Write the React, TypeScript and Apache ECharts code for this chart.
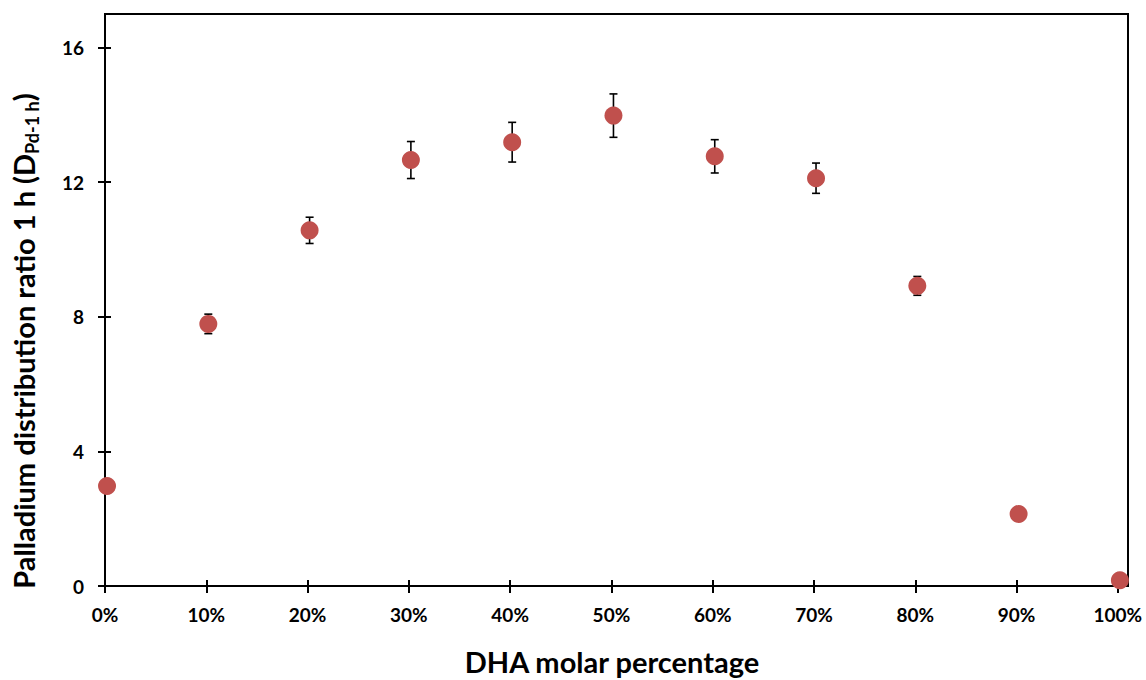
import React, { useEffect, useRef } from "react";
import * as echarts from "echarts";

// DHA molar percentage (%) of each sample
const dhaPercent = [0.2, 10.2, 20.2, 30.2, 40.2, 50.2, 60.2, 70.2, 80.2, 90.2, 100.2];
// Palladium distribution ratio after 1 h
const distributionRatio = [2.97, 7.79, 10.57, 12.66, 13.19, 13.98, 12.77, 12.12, 8.92, 2.14, 0.17];
// Standard deviation (0 = no visible error bar)
const ratioError = [0, 0.29, 0.39, 0.55, 0.59, 0.645, 0.495, 0.45, 0.28, 0, 0];

const xTickValues = [0, 10, 20, 30, 40, 50, 60, 70, 80, 90, 100];
const yTickValues = [0, 4, 8, 12, 16];

const FONT = "Lato, 'Open Sans', sans-serif";
const MARKER = "#C0504D";

export default function App() {
  const ref = useRef<HTMLDivElement>(null);

  useEffect(() => {
    if (!ref.current) return;
    const chart = echarts.init(ref.current, undefined, { renderer: "svg" });

    const points = dhaPercent.map((x, i) => [x, distributionRatio[i]]);
    const errors = dhaPercent
      .map((x, i) => [x, distributionRatio[i] - ratioError[i], distributionRatio[i] + ratioError[i], ratioError[i]])
      .filter((d) => d[3] > 0);

    const axisColor = "#000";
    const tickStyle = { color: axisColor, width: 2 };

    const xBase = {
      type: "value" as const,
      min: 0,
      max: 101,
      interval: 10,
      position: "bottom" as const,
      gridIndex: 0,
      splitLine: { show: false },
    };
    const yBase = {
      type: "value" as const,
      min: 0,
      max: 17,
      interval: 4,
      position: "left" as const,
      gridIndex: 0,
      splitLine: { show: false },
    };

    chart.setOption({
      animation: false,
      backgroundColor: "#fff",
      grid: {
        left: 105,
        top: 14,
        right: 18,
        bottom: 94,
        show: true,
        borderColor: axisColor,
        borderWidth: 2,
        backgroundColor: "transparent",
      },
      xAxis: [
        {
          ...xBase,
          axisLine: { show: true, lineStyle: { color: axisColor, width: 2 } },
          axisTick: { show: true, inside: false, length: 7, customValues: xTickValues, lineStyle: tickStyle },
          axisLabel: {
            customValues: xTickValues,
            formatter: (v: number) => `${v}%`,
            margin: 19,
            color: "#000",
            fontFamily: FONT,
            fontWeight: "bold",
            fontSize: 19,
          },
        },
        {
          ...xBase,
          axisLine: { show: false },
          axisTick: { show: true, inside: true, length: 6, customValues: xTickValues, lineStyle: tickStyle },
          axisLabel: { show: false },
        },
      ],
      yAxis: [
        {
          ...yBase,
          axisLine: { show: true, lineStyle: { color: axisColor, width: 2 } },
          axisTick: { show: true, inside: false, length: 7, customValues: yTickValues, lineStyle: tickStyle },
          axisLabel: {
            customValues: yTickValues,
            margin: 21,
            color: "#000",
            fontFamily: FONT,
            fontWeight: "bold",
            fontSize: 19,
          },
        },
        {
          ...yBase,
          axisLine: { show: false },
          axisTick: { show: true, inside: true, length: 6, customValues: yTickValues, lineStyle: tickStyle },
          axisLabel: { show: false },
        },
      ],
      graphic: [
        {
          type: "text",
          x: 612,
          y: 661,
          style: {
            text: "DHA molar percentage",
            fill: "#000",
            font: `bold 29px ${FONT}`,
            align: "center",
            verticalAlign: "middle",
          },
        },
        {
          type: "text",
          x: 23,
          y: 341,
          rotation: Math.PI / 2,
          style: {
            text: "Palladium distribution ratio 1 h (D{sub|Pd-1 h})",
            fill: "#000",
            fontFamily: FONT,
            fontWeight: "bold",
            fontSize: 29,
            lineHeight: 36,
            align: "center",
            verticalAlign: "middle",
            rich: {
              sub: {
                fontFamily: FONT,
                fontWeight: "bold",
                fontSize: 18,
                lineHeight: 36,
                verticalAlign: "bottom",
                fill: "#000",
              },
            },
          },
        },
      ],
      series: [
        {
          type: "custom",
          xAxisIndex: 0,
          yAxisIndex: 0,
          z: 2,
          data: errors,
          encode: { x: 0, y: [1, 2] },
          renderItem: (_params: any, api: any) => {
            const x = api.value(0);
            const lo = api.coord([x, api.value(1)]);
            const hi = api.coord([x, api.value(2)]);
            const cap = 4;
            const style = { stroke: "#000", lineWidth: 1.6 };
            return {
              type: "group",
              children: [
                { type: "line", shape: { x1: hi[0], y1: hi[1], x2: lo[0], y2: lo[1] }, style },
                { type: "line", shape: { x1: hi[0] - cap, y1: hi[1], x2: hi[0] + cap, y2: hi[1] }, style },
                { type: "line", shape: { x1: lo[0] - cap, y1: lo[1], x2: lo[0] + cap, y2: lo[1] }, style },
              ],
            };
          },
        },
        {
          type: "scatter",
          xAxisIndex: 0,
          yAxisIndex: 0,
          z: 5,
          symbol: "circle",
          symbolSize: 18,
          clip: false,
          itemStyle: { color: MARKER, opacity: 1 },
          data: points,
        },
      ],
    });

    return () => chart.dispose();
  }, []);

  return (
    <div
      ref={ref}
      style={{ position: "fixed", left: 0, top: 0, width: 1146, height: 680, background: "#fff" }}
    />
  );
}
